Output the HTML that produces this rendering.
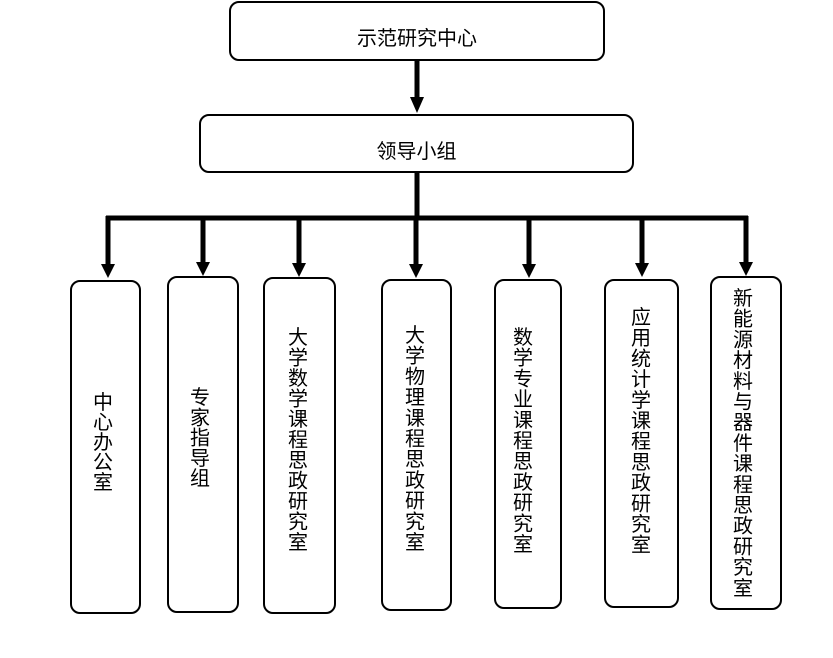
<!DOCTYPE html>
<html><head><meta charset="utf-8"><style>
body{margin:0;width:833px;height:658px;background:#fff;position:relative;overflow:hidden;font-family:"Liberation Sans","Noto Sans CJK SC",sans-serif;color:#000}
.b{position:absolute;border:2px solid #000;border-radius:10px;box-sizing:border-box;background:#fff}
.h{display:flex;align-items:center;justify-content:center;font-size:20px;padding-top:11px}
svg text{font-family:"Noto Sans CJK SC",sans-serif;font-size:20px;text-anchor:middle;fill:#000}
</style></head><body>
<div class="b" style="left:70px;top:280px;width:71px;height:334px"></div>
<div class="b" style="left:167px;top:276px;width:72px;height:337px"></div>
<div class="b" style="left:263px;top:277px;width:73px;height:337px"></div>
<div class="b" style="left:381px;top:279px;width:71px;height:332px"></div>
<div class="b" style="left:494px;top:279px;width:68px;height:330px"></div>
<div class="b" style="left:604px;top:279px;width:75px;height:329px"></div>
<div class="b" style="left:710px;top:276px;width:72px;height:334px"></div>
<svg width="833" height="658" style="position:absolute;left:0;top:0">
<g stroke="#000" stroke-width="5" fill="none">
<line x1="417" y1="60" x2="417" y2="100"/>
<line x1="417" y1="172" x2="417" y2="218"/>
<line x1="106" y1="218" x2="748" y2="218"/>
<line x1="108" y1="216" x2="108" y2="266"/>
<line x1="203" y1="216" x2="203" y2="264"/>
<line x1="299" y1="216" x2="299" y2="265"/>
<line x1="416" y1="216" x2="416" y2="266"/>
<line x1="529" y1="216" x2="529" y2="266"/>
<line x1="642" y1="216" x2="642" y2="265"/>
<line x1="746" y1="216" x2="746" y2="264"/>
</g>
<g fill="#000">
<polygon points="410,97 424,97 417,113"/>
<polygon points="101,264 115,264 108,278"/>
<polygon points="196,262 210,262 203,276"/>
<polygon points="292,263 306,263 299,277"/>
<polygon points="409,264 423,264 416,278"/>
<polygon points="522,264 536,264 529,278"/>
<polygon points="635,263 649,263 642,277"/>
<polygon points="739,262 753,262 746,276"/>
</g>
<text x="103 103 103 103 103" y="409 429 449 469 489">中心办公室</text>
<text x="200 200 200 200 200" y="404 424.3 444.6 464.9 485.2">专家指导组</text>
<text x="298 298 298 298 298 298 298 298 298 298 298" y="344 364.5 385 405.5 426 446.5 467 487.5 508 528.5 549">大学数学课程思政研究室</text>
<text x="415 415 415 415 415 415 415 415 415 415 415" y="342 362.7 383.4 404.1 424.8 445.5 466.2 486.9 507.6 528.3 549">大学物理课程思政研究室</text>
<text x="523 523 523 523 523 523 523 523 523 523 523" y="344 364.7 385.4 406.1 426.8 447.5 468.2 488.9 509.6 530.3 551">数学专业课程思政研究室</text>
<text x="641 641 641 641 641 641 641 641 641 641 641 641" y="324 344.7 365.4 386.1 406.8 427.5 448.2 468.9 489.6 510.3 531 551.7">应用统计学课程思政研究室</text>
<text x="743 743 743 743 743 743 743 743 743 743 743 743 743 743 743" y="305 325.7 346.4 367.1 387.8 408.5 429.2 449.9 470.6 491.3 512 532.7 553.4 574.1 594.8">新能源材料与器件课程思政研究室</text>
</svg>
<div class="b h" style="left:229px;top:1px;width:376px;height:60px">示范研究中心</div>
<div class="b h" style="left:199px;top:114px;width:435px;height:59px">领导小组</div>
</body></html>
